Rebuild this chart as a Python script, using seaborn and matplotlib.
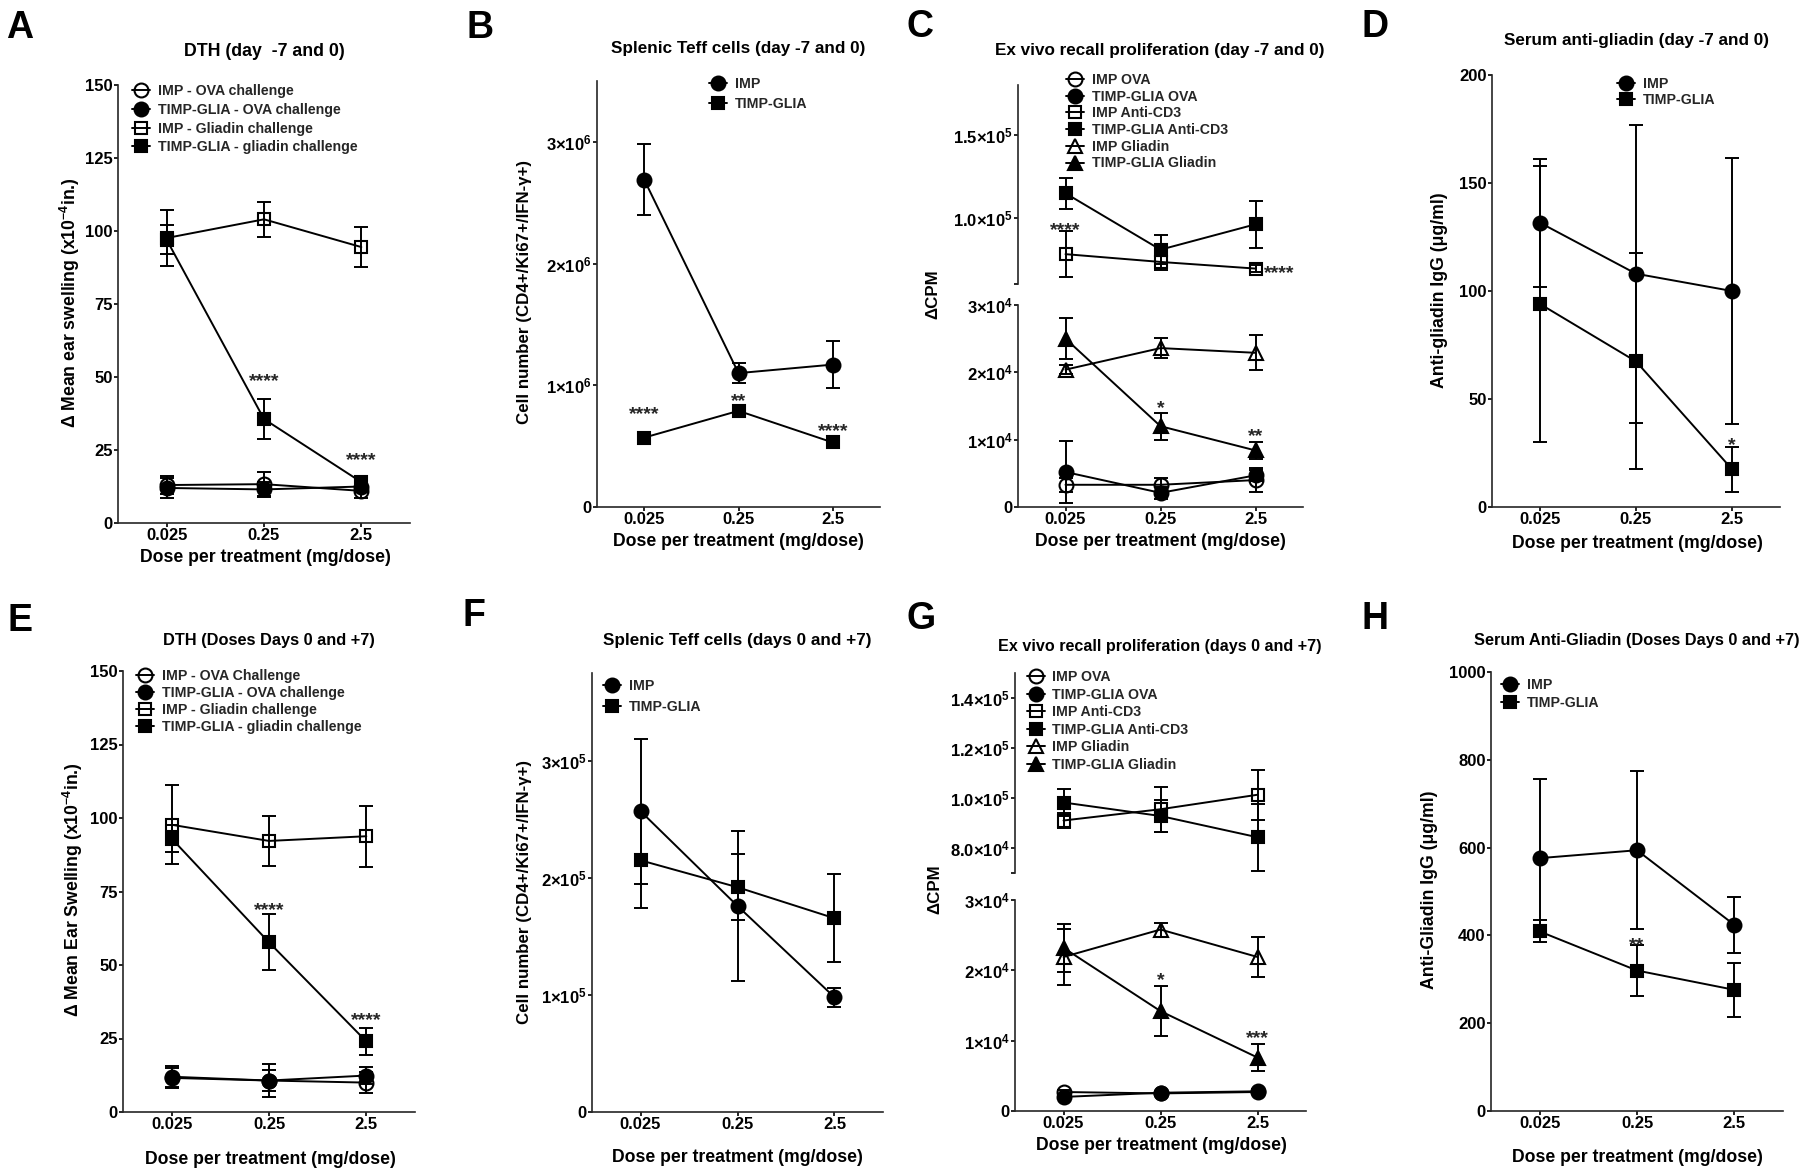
import numpy as np
import pandas as pd
import matplotlib
matplotlib.use("Agg")
import matplotlib.pyplot as plt
import seaborn as sns

# ---------------- data ----------------
doses = ["0.025", "0.25", "2.5"]
pos = [0, 1, 2]

# Panel A  DTH (day -7 and 0)
A_imp_ova = [13.0, 13.3, 11.0];  A_imp_ova_err = [3.0, 4.0, 2.5]
A_timp_ova = [12.0, 11.5, 12.5]; A_timp_ova_err = [3.5, 2.5, 2.0]
A_imp_gli = [97.6, 104.0, 94.5]; A_imp_gli_err = [9.5, 6.0, 6.7]
A_timp_gli = [97.0, 35.6, 14.0]; A_timp_gli_err = [5.0, 7.0, 2.0]
A_labels = ["IMP - OVA challenge", "TIMP-GLIA - OVA challenge",
            "IMP - Gliadin challenge", "TIMP-GLIA - gliadin challenge"]
A_stars = [(1, 48.5, "****"), (2, 21.3, "****")]

# Panel B  Splenic Teff (day -7 and 0)
B_imp = [2.69e6, 1.10e6, 1.17e6];  B_imp_err = [0.29e6, 0.08e6, 0.19e6]
B_timp = [0.57e6, 0.79e6, 0.53e6]; B_timp_err = [0.02e6, 0.04e6, 0.02e6]
B_labels = ["IMP", "TIMP-GLIA"]
B_stars = [(0, 0.76e6, "****"), (1, 0.87e6, "**"), (2, 0.62e6, "****")]

# Panel C  Ex vivo recall (day -7 and 0)
C_imp_ova = [3300, 3300, 4000];       C_imp_ova_err = [1000, 1000, 1800]
C_timp_ova = [5200, 2100, 4700];      C_timp_ova_err = [4600, 900, 800]
C_imp_cd3 = [78000, 73300, 69300];    C_imp_cd3_err = [14000, 5000, 2000]
C_timp_cd3 = [114700, 80700, 96000];  C_timp_cd3_err = [9500, 8700, 14000]
C_imp_gli = [20400, 23600, 22900];    C_imp_gli_err = [700, 1500, 2600]
C_timp_gli = [25000, 12000, 8400];    C_timp_gli_err = [3000, 2000, 1200]
CG_labels = ["IMP OVA", "TIMP-GLIA OVA", "IMP Anti-CD3", "TIMP-GLIA Anti-CD3",
             "IMP Gliadin", "TIMP-GLIA Gliadin"]
C_stars_up = [(0, 92500, "****", "center"), (2.09, 66000, "****", "left")]
C_stars_low = [(1, 14600, "*", "center"), (2, 10500, "**", "center")]

# Panel D  Serum anti-gliadin (day -7 and 0)
D_imp = [131.6, 108.0, 100.0]; D_imp_err = [29.6, 69.0, 61.5]
D_timp = [94.0, 67.4, 17.5];   D_timp_err = [64.0, 50.0, 10.5]
D_stars = [(2, 28.5, "*")]

# Panel E  DTH (doses days 0 and +7)
E_imp_ova = [11.6, 10.7, 10.0];  E_imp_ova_err = [3.5, 5.5, 3.5]
E_timp_ova = [12.0, 10.7, 12.4]; E_timp_ova_err = [3.5, 3.5, 3.0]
E_imp_gli = [97.7, 92.2, 93.8];  E_imp_gli_err = [13.5, 8.5, 10.3]
E_timp_gli = [93.0, 57.7, 24.0]; E_timp_gli_err = [4.5, 9.5, 4.7]
E_labels = ["IMP - OVA Challenge", "TIMP-GLIA - OVA challenge",
            "IMP - Gliadin challenge", "TIMP-GLIA - gliadin challenge"]
E_stars = [(1, 68.5, "****"), (2, 31.0, "****")]

# Panel F  Splenic Teff (days 0 and +7)
F_imp = [2.57e5, 1.76e5, 0.98e5];   F_imp_err = [0.62e5, 0.64e5, 0.08e5]
F_timp = [2.15e5, 1.92e5, 1.655e5]; F_timp_err = [0.41e5, 0.28e5, 0.375e5]

# Panel G  Ex vivo recall (days 0 and +7)
G_imp_ova = [2700, 2500, 2700];     G_imp_ova_err = [300, 300, 300]
G_timp_ova = [2000, 2600, 2800];    G_timp_ova_err = [300, 300, 300]
G_imp_cd3 = [91000, 95500, 101300]; G_imp_cd3_err = [3000, 9000, 10000]
G_timp_cd3 = [98200, 92800, 84300]; G_timp_cd3_err = [5400, 6300, 13300]
G_imp_gli = [21900, 25800, 21900];  G_imp_gli_err = [4000, 1000, 2900]
G_timp_gli = [23200, 14200, 7600];  G_timp_gli_err = [3400, 3600, 1900]
G_stars_low = [(1, 18500, "*"), (2, 10300, "***")]

# Panel H  Serum anti-gliadin (doses days 0 and +7)
H_imp = [576, 594, 424];  H_imp_err = [180, 180, 64]
H_timp = [409, 320, 276]; H_timp_err = [25, 58, 61]
H_stars = [(1, 376, "**")]

# ---------------- style ----------------
sns.set_theme(style="ticks")
plt.rcParams["font.family"] = ["Liberation Sans", "DejaVu Sans"]
plt.rcParams["font.weight"] = "bold"
plt.rcParams["axes.labelweight"] = "bold"
plt.rcParams["mathtext.fontset"] = "custom"
plt.rcParams["mathtext.rm"] = "Liberation Sans:bold"
plt.rcParams["mathtext.it"] = "Liberation Sans:bold"
plt.rcParams["mathtext.bf"] = "Liberation Sans:bold"
plt.rcParams["mathtext.default"] = "bf"

W, H = 1800, 1173
fig = plt.figure(figsize=(W / 100, H / 100), dpi=100)
fig.patch.set_facecolor("white")

MARK = [("o", False), ("o", True), ("s", False), ("s", True), ("^", False), ("^", True)]
MSIZE = {"o": 10, "s": 9, "^": 10}
LW = 1.4
TICK = 12
XLAB = 12.7


def axes_px(x0, x1, y0, y1):
    return fig.add_axes([x0 / W, 1 - y1 / H, (x1 - x0) / W, (y1 - y0) / H])


def style_ax(ax, ylim, yticks, yticklabels, bottom=True):
    ax.set_xlim(-0.5, 2.5)
    ax.set_ylim(*ylim)
    for s in ["top", "right"]:
        ax.spines[s].set_visible(False)
    ax.spines["left"].set_linewidth(1.2)
    ax.spines["left"].set_color("#262626")
    ax.set_yticks(yticks)
    ax.set_yticklabels(yticklabels)
    ax.tick_params(axis="both", direction="out", length=3, width=1.2,
                   labelsize=TICK, pad=0.8, colors="black")
    if bottom:
        ax.spines["bottom"].set_linewidth(1.2)
        ax.spines["bottom"].set_color("#262626")
        ax.set_xticks(pos)
        ax.set_xticklabels(doses)
    else:
        ax.spines["bottom"].set_visible(False)
        ax.set_xticks([])
    for lab in ax.get_xticklabels() + ax.get_yticklabels():
        lab.set_fontweight("bold")
    ax.set_xlabel("")
    ax.set_ylabel("")
    ax.set_facecolor("white")


def series(ax, y, err, mk, label):
    marker, filled = mk
    sns.lineplot(x=pos, y=y, ax=ax, color="black", marker=marker,
                 markersize=MSIZE[marker],
                 markerfacecolor="black" if filled else "none",
                 markeredgecolor="black", markeredgewidth=1.5, linewidth=LW,
                 errorbar=None, legend=False, label=label)
    line = ax.lines[-1]
    ax.errorbar(pos, y, yerr=err, fmt="none", ecolor="black", elinewidth=LW,
                capsize=5.2, capthick=LW)
    return line


def legend_px(ax, handles, labels, left, top, spacing=0.15, size=10.2):
    ax.legend(handles, labels, loc="upper left",
              bbox_to_anchor=(left / W, 1 - top / H), bbox_transform=fig.transFigure,
              frameon=False, handlelength=1.25, handletextpad=0.55,
              labelspacing=spacing, borderpad=0, borderaxespad=0, numpoints=1,
              prop={"weight": "bold", "size": size})


def T(x, y, s, size, rot=0, ha="center"):
    fig.text(x / W, 1 - y / H, s, fontsize=size, fontweight="bold", rotation=rot,
             ha=ha, va="center", color="black")


def stars(ax, lst, size=14):
    for item in lst:
        x, y, s = item[0], item[1], item[2]
        ha = item[3] if len(item) > 3 else "center"
        ax.text(x, y, s, ha=ha, va="center", fontsize=size, fontweight="bold")


def sci(m, e):
    return m + r"×10$^{" + str(e) + "}$"


# ---------------- Panel A ----------------
ax = axes_px(118, 410, 85, 523)
hs = [series(ax, v, e, MARK[i], l) for i, (v, e, l) in enumerate(
    [(A_imp_ova, A_imp_ova_err, A_labels[0]), (A_timp_ova, A_timp_ova_err, A_labels[1]),
     (A_imp_gli, A_imp_gli_err, A_labels[2]), (A_timp_gli, A_timp_gli_err, A_labels[3])])]
style_ax(ax, (0, 150), [0, 25, 50, 75, 100, 125, 150], ["0", "25", "50", "75", "100", "125", "150"])
legend_px(ax, hs, A_labels, 132, 84, spacing=0.34)
stars(ax, A_stars)
T(20, 28, "A", 27)
T(264, 52, "DTH (day  -7 and 0)", 12.8)
T(265, 558, "Dose per treatment (mg/dose)", XLAB)
T(70, 303, r"Δ Mean ear swelling (x10$^{-4}$in.)", 12.7, rot=90)

# ---------------- Panel B ----------------
ax = axes_px(597, 880, 81, 507)
hs = [series(ax, B_imp, B_imp_err, MARK[1], B_labels[0]),
      series(ax, B_timp, B_timp_err, MARK[3], B_labels[1])]
style_ax(ax, (0, 3.5e6), [0, 1e6, 2e6, 3e6], ["0", sci("1", 6), sci("2", 6), sci("3", 6)])
legend_px(ax, hs, B_labels, 709, 77, spacing=0.41)
stars(ax, B_stars)
T(480, 28, "B", 27)
T(738, 48, "Splenic Teff cells (day -7 and 0)", 12.3)
T(738, 541, "Dose per treatment (mg/dose)", XLAB)
T(525, 292, "Cell number (CD4+/Ki67+/IFN-γ+)", 12.2, rot=90)

# ---------------- Panel C (broken axis) ----------------
axu = axes_px(1018, 1303, 85, 284)
axl = axes_px(1018, 1303, 305, 507)
C_all = [(C_imp_ova, C_imp_ova_err), (C_timp_ova, C_timp_ova_err),
         (C_imp_cd3, C_imp_cd3_err), (C_timp_cd3, C_timp_cd3_err),
         (C_imp_gli, C_imp_gli_err), (C_timp_gli, C_timp_gli_err)]
hs = [series(axu, v, e, MARK[i], CG_labels[i]) for i, (v, e) in enumerate(C_all)]
for i, (v, e) in enumerate(C_all):
    series(axl, v, e, MARK[i], CG_labels[i])
style_ax(axu, (60000, 180000), [60000, 100000, 150000], ["", sci("1.0", 5), sci("1.5", 5)], bottom=False)
style_ax(axl, (0, 30000), [0, 10000, 20000, 30000], ["0", sci("1", 4), sci("2", 4), sci("3", 4)])
legend_px(axu, hs, CG_labels, 1066, 73, spacing=0.19)
stars(axu, C_stars_up)
stars(axl, C_stars_low)
T(920, 27, "C", 27)
T(1160, 51, "Ex vivo recall proliferation (day -7 and 0)", 12.3)
T(1160, 542, "Dose per treatment (mg/dose)", XLAB)
T(933, 294, "ΔCPM", 12.2, rot=90)

# ---------------- Panel D ----------------
ax = axes_px(1492, 1780, 75, 507)
hs = [series(ax, D_imp, D_imp_err, MARK[1], B_labels[0]),
      series(ax, D_timp, D_timp_err, MARK[3], B_labels[1])]
style_ax(ax, (0, 200), [0, 50, 100, 150, 200], ["0", "50", "100", "150", "200"])
legend_px(ax, hs, B_labels, 1617, 77, spacing=0.17)
stars(ax, D_stars)
T(1375, 27, "D", 27)
T(1637, 41, "Serum anti-gliadin (day -7 and 0)", 12.3)
T(1637, 543, "Dose per treatment (mg/dose)", XLAB)
T(1440, 290, "Anti-gliadin IgG (μg/ml)", 12.7, rot=90)

# ---------------- Panel E ----------------
ax = axes_px(123, 415, 671, 1112)
hs = [series(ax, v, e, MARK[i], l) for i, (v, e, l) in enumerate(
    [(E_imp_ova, E_imp_ova_err, E_labels[0]), (E_timp_ova, E_timp_ova_err, E_labels[1]),
     (E_imp_gli, E_imp_gli_err, E_labels[2]), (E_timp_gli, E_timp_gli_err, E_labels[3])])]
style_ax(ax, (0, 150), [0, 25, 50, 75, 100, 125, 150], ["0", "25", "50", "75", "100", "125", "150"])
legend_px(ax, hs, E_labels, 136, 669, spacing=0.2)
stars(ax, E_stars)
T(20, 621, "E", 27)
T(269, 641, "DTH (Doses Days 0 and +7)", 11.8)
T(270, 1159, "Dose per treatment (mg/dose)", XLAB)
T(73, 890, r"Δ Mean Ear Swelling (x10$^{-4}$in.)", 12.7, rot=90)

# ---------------- Panel F ----------------
ax = axes_px(592, 883, 673, 1112)
hs = [series(ax, F_imp, F_imp_err, MARK[1], B_labels[0]),
      series(ax, F_timp, F_timp_err, MARK[3], B_labels[1])]
style_ax(ax, (0, 3.75e5), [0, 1e5, 2e5, 3e5], ["0", sci("1", 5), sci("2", 5), sci("3", 5)])
legend_px(ax, hs, B_labels, 603, 679, spacing=0.52)
T(474, 616, "F", 27)
T(737, 641, "Splenic Teff cells (days 0 and +7)", 12.3)
T(737, 1158, "Dose per treatment (mg/dose)", XLAB)
T(524, 892, "Cell number (CD4+/Ki67+/IFN-γ+)", 12.2, rot=90)

# ---------------- Panel G (broken axis) ----------------
axu = axes_px(1015, 1306, 673, 873)
axl = axes_px(1015, 1306, 900, 1111)
G_all = [(G_imp_ova, G_imp_ova_err), (G_timp_ova, G_timp_ova_err),
         (G_imp_cd3, G_imp_cd3_err), (G_timp_cd3, G_timp_cd3_err),
         (G_imp_gli, G_imp_gli_err), (G_timp_gli, G_timp_gli_err)]
hs = [series(axu, v, e, MARK[i], CG_labels[i]) for i, (v, e) in enumerate(G_all)]
for i, (v, e) in enumerate(G_all):
    series(axl, v, e, MARK[i], CG_labels[i])
style_ax(axu, (70000, 150000), [70000, 80000, 100000, 120000, 140000],
         ["", sci("8.0", 4), sci("1.0", 5), sci("1.2", 5), sci("1.4", 5)], bottom=False)
style_ax(axl, (0, 30000), [0, 10000, 20000, 30000], ["0", sci("1", 4), sci("2", 4), sci("3", 4)])
legend_px(axu, hs, CG_labels, 1027, 670, spacing=0.25)
stars(axl, G_stars_low)
T(921, 619, "G", 27)
T(1160, 646, "Ex vivo recall proliferation (days 0 and +7)", 11.6)
T(1161, 1146, "Dose per treatment (mg/dose)", XLAB)
T(935, 889, "ΔCPM", 12.2, rot=90)

# ---------------- Panel H ----------------
ax = axes_px(1491, 1783, 672, 1111)
hs = [series(ax, H_imp, H_imp_err, MARK[1], B_labels[0]),
      series(ax, H_timp, H_timp_err, MARK[3], B_labels[1])]
style_ax(ax, (0, 1000), [0, 200, 400, 600, 800, 1000], ["0", "200", "400", "600", "800", "1000"])
legend_px(ax, hs, B_labels, 1501, 678, spacing=0.27)
stars(ax, H_stars)
T(1375, 619, "H", 27)
T(1637, 640, "Serum Anti-Gliadin (Doses Days 0 and +7)", 11.8)
T(1637, 1157, "Dose per treatment (mg/dose)", XLAB)
T(1430, 890, "Anti-Gliadin IgG (μg/ml)", 12.7, rot=90)

fig.savefig("out.png", dpi=100, facecolor="white")
